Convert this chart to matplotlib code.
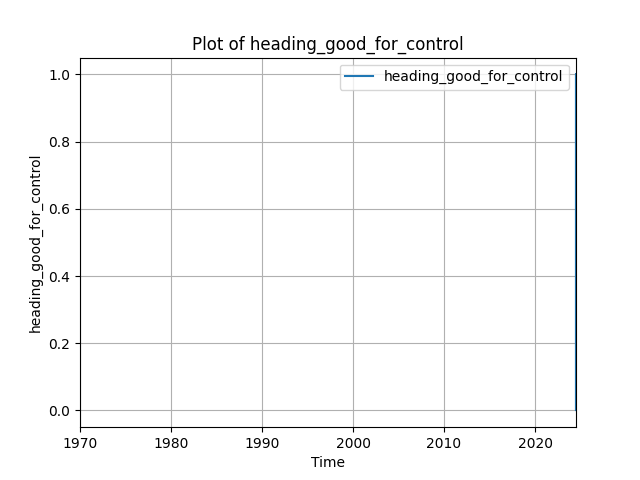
import matplotlib
matplotlib.use("Agg")
import matplotlib.pyplot as plt
import pandas as pd
import datetime as dt

times = pd.to_datetime([
    "2024-07-01 10:00:00",
    "2024-07-01 10:00:10",
    "2024-07-01 10:00:20",
    "2024-07-01 10:00:30",
    "2024-07-01 10:00:40",
])
values = [0, 1, 1, 1, 0]
label = "heading_good_for_control"

fig, ax = plt.subplots(figsize=(6.4, 4.8), dpi=100)
ax.plot(times, values, label=label)
ax.set_xlim(left=dt.datetime(1970, 1, 1))
ax.set_title(f"Plot of {label}")
ax.set_xlabel("Time")
ax.set_ylabel(label)
ax.grid(True)
ax.legend(loc="upper right")
fig.savefig("out.png", dpi=100)
